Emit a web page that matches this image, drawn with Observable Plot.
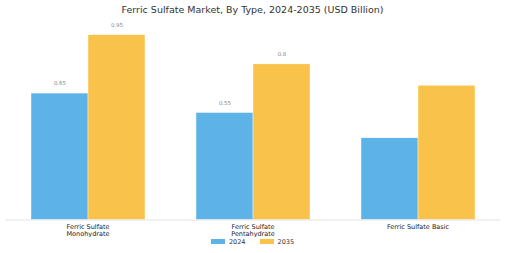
<!DOCTYPE html>
<html>
<head>
<meta charset="utf-8">
<script src="https://cdn.jsdelivr.net/npm/d3@7"></script>
<script src="https://cdn.jsdelivr.net/npm/@observablehq/plot@0.6"></script>
<style>
  body { margin: 0; background: #fff; font-family: "DejaVu Sans", sans-serif; }
  #wrap { width: 505px; }
  #title { height: 20px; line-height: 20px; text-align: center; font-size: 9.5px; color: #333; }
  #legend { height: 9px; display: flex; justify-content: center; align-items: center; font-size: 6.5px; color: #333; gap: 0; }
  .item { display: flex; align-items: center; margin: 0 7px; }
  .sw { width: 14px; height: 5px; margin-right: 4px; }
</style>
</head>
<body>
<div id="wrap">
  <div id="title">Ferric Sulfate Market, By Type, 2024-2035 (USD Billion)</div>
  <div id="chart"></div>
  <div id="legend"></div>
</div>
<script>
const categories = ["Ferric Sulfate Monohydrate", "Ferric Sulfate Pentahydrate", "Ferric Sulfate Basic"];
const categoryLabels = ["Ferric Sulfate\nMonohydrate", "Ferric Sulfate\nPentahydrate", "Ferric Sulfate Basic"];
const years = ["2024", "2035"];
const values2024 = [0.65, 0.55, 0.42];
const values2035 = [0.95, 0.8, 0.69];
const shownLabels2024 = ["0.65", "0.55", ""];
const shownLabels2035 = ["0.95", "0.8", ""];
const colors = ["#5DB3E8", "#F9C34B"];

const data = [];
categories.forEach((c, i) => {
  data.push({category: c, year: years[0], value: values2024[i], label: shownLabels2024[i]});
  data.push({category: c, year: years[1], value: values2035[i], label: shownLabels2035[i]});
});
const catData = categories.map((c, i) => ({category: c, text: categoryLabels[i]}));

const chart = Plot.plot({
  width: 505,
  height: 217,
  marginTop: 5,
  marginBottom: 17.5,
  marginLeft: 4,
  marginRight: 4,
  style: {fontFamily: "DejaVu Sans, sans-serif", background: "#fff"},
  fx: {domain: categories, padding: 0, axis: null},
  x: {domain: years, paddingInner: 0, paddingOuter: 0.427, axis: null},
  y: {domain: [0, 1], axis: null},
  color: {domain: years, range: colors},
  marks: [
    Plot.barY(data, {fx: "category", x: "year", y: "value", fill: "year", stroke: "#fff", strokeWidth: 0.4}),
    Plot.ruleY([0], {stroke: "#e3e3e3", strokeWidth: 1}),
    Plot.text(data.filter(d => d.label), {fx: "category", x: "year", y: "value", text: "label", dy: -10, fill: "#888", fontSize: 5.5}),
    Plot.text(catData, {fx: "category", text: "text", frameAnchor: "bottom", lineAnchor: "top", dy: 3, fontSize: 6.5, lineHeight: 1.2, fill: "#222"})
  ]
});
document.getElementById("chart").appendChild(chart);

const legend = document.getElementById("legend");
years.forEach((y, i) => {
  const item = document.createElement("div");
  item.className = "item";
  const sw = document.createElement("div");
  sw.className = "sw";
  sw.style.background = colors[i];
  const t = document.createElement("span");
  t.textContent = y;
  item.appendChild(sw);
  item.appendChild(t);
  legend.appendChild(item);
});
</script>
</body>
</html>
